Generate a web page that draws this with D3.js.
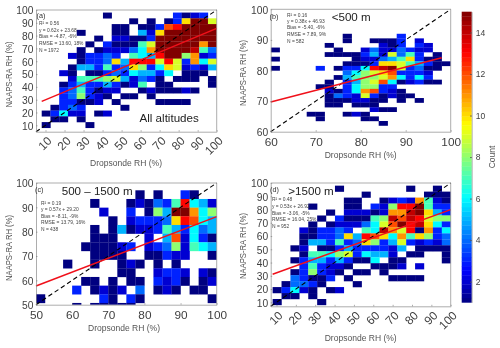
<!DOCTYPE html>
<html><head><meta charset="utf-8">
<script src="https://d3js.org/d3.v7.min.js"></script>
<style>html,body{margin:0;padding:0;background:#fff}svg{display:block;filter:blur(.3px)}text{font-family:"Liberation Sans",Arial,sans-serif}</style>
</head><body><svg id="c" width="500" height="348"></svg>
<script>
// Counts per histogram cell, top row first; 0 = empty
const gridA=[
[0,0,0,0,0,0,0,1,0,0,0,0,0,0,0,3,1,2,3,0],
[0,0,0,0,0,0,0,0,0,0,1,0,1,0,1,3,10,15,15,9],
[0,0,0,0,0,0,0,0,1,1,0,1,1,3,12,13,15,15,15,15],
[0,0,0,0,1,0,0,0,1,1,0,5,2,10,15,15,15,15,15,15],
[0,0,0,0,0,0,1,0,2,2,1,1,3,15,15,15,15,15,15,15],
[0,0,0,0,0,1,0,3,1,1,1,7,9,15,15,15,15,15,11,15],
[0,0,0,0,1,0,1,2,2,2,4,6,11,15,15,15,15,14,7,4],
[0,0,0,2,1,3,3,4,3,0,7,6,5,13,15,15,8,11,2,3],
[0,0,0,0,1,3,3,4,10,5,13,13,13,9,13,9,3,11,6,9],
[0,0,0,1,5,5,3,7,3,4,10,8,3,6,10,9,2,3,2,5],
[0,0,2,1,0,1,1,3,4,3,6,5,5,3,6,0,1,1,1,0],
[0,0,0,2,7,7,7,8,9,5,2,4,3,1,0,1,1,1,0,1],
[0,0,1,3,5,3,3,5,3,1,2,7,0,1,1,0,0,0,0,1],
[0,0,3,4,7,3,1,2,2,0,0,1,2,1,1,1,2,1,0,0],
[0,0,3,4,8,3,2,1,0,1,1,0,1,0,0,0,0,0,0,0],
[0,0,3,3,1,1,2,0,1,0,0,0,0,1,1,1,1,0,0,0],
[0,1,3,4,3,0,0,0,0,1,0,0,0,0,0,0,0,0,0,0],
[1,3,6,2,2,0,1,2,0,0,0,0,0,0,0,0,0,0,0,0],
[0,1,1,0,1,0,0,0,0,0,0,0,0,0,0,0,0,0,0,0],
[1,0,0,0,0,1,0,0,0,0,0,0,0,0,0,0,0,0,0,0]];
const gridB=[
[0,0,0,0,0,0,0,0,1,0,0,0,0,0,3,0,0,0,0,0],
[0,0,0,0,0,0,0,0,1,0,0,1,1,1,3,0,2,0,0,0],
[0,0,0,0,0,0,1,0,0,0,0,0,2,1,3,0,3,2,0,0],
[1,0,0,0,0,0,0,1,0,0,2,4,2,2,4,3,2,2,0,0],
[0,0,0,0,0,0,1,1,1,1,3,5,2,9,4,7,3,0,1,0],
[1,0,0,0,0,0,0,0,0,1,2,2,4,5,7,10,3,1,1,0],
[0,0,0,0,0,0,0,0,1,1,1,3,10,10,9,7,5,3,1,1],
[1,0,0,0,0,3,0,1,3,3,6,13,14,15,9,3,4,1,1,0],
[0,0,0,0,0,0,0,0,4,6,8,9,10,12,3,3,3,2,0,0],
[0,0,0,0,0,0,0,1,5,7,8,8,9,11,6,3,6,3,0,0],
[0,0,0,0,0,0,1,0,3,5,8,9,12,6,1,2,3,1,1,0],
[0,0,0,0,0,1,1,0,3,6,8,8,3,3,0,0,0,0,0,0],
[0,0,0,0,0,0,2,1,3,6,11,12,3,2,1,0,0,0,0,0],
[0,0,0,0,0,0,1,4,3,2,9,3,1,2,1,1,0,0,0,0],
[0,0,0,0,0,0,1,1,1,2,2,1,1,0,1,0,1,0,0,0],
[0,0,0,0,0,0,1,1,0,1,1,1,0,0,0,0,0,0,0,0],
[0,0,0,0,0,0,0,0,0,0,0,2,1,1,0,0,0,0,0,0],
[0,0,0,0,1,1,0,0,1,2,1,0,0,0,0,0,0,0,0,0],
[0,0,0,0,0,1,0,0,0,0,1,1,0,0,0,0,0,0,0,0],
[0,0,0,0,0,0,0,0,0,0,0,0,1,0,0,0,0,0,0,0]];
const gridC=[
[0,0,0,0,0,0,0,0,0,0,0,1,0,1,0,0,3,1,0,0],
[0,0,0,0,0,0,1,0,0,0,1,2,1,4,3,7,13,6,5,2],
[0,0,0,0,0,0,0,2,0,0,3,0,1,8,5,15,15,11,6,8],
[0,0,0,0,0,0,0,0,1,0,2,3,3,3,4,10,13,12,6,5],
[0,0,0,0,0,0,1,0,1,5,1,2,2,3,7,5,3,6,4,5],
[0,0,0,0,0,0,1,1,1,0,0,0,2,0,5,12,2,6,3,1],
[0,0,0,0,0,1,1,1,1,2,3,0,2,3,4,8,2,7,6,5],
[0,0,0,0,0,0,1,1,1,1,0,0,1,1,3,2,2,0,0,1],
[0,0,0,1,0,0,1,0,0,1,2,1,0,1,0,1,0,0,0,0],
[0,0,0,0,0,0,0,0,0,1,1,0,0,2,3,3,2,0,2,1],
[0,0,0,0,0,1,1,0,1,0,1,1,0,3,2,3,1,0,1,2],
[0,0,0,0,3,0,1,2,1,2,0,4,0,1,2,1,0,1,1,0],
[1,0,0,0,0,0,0,3,1,0,3,1,0,0,0,0,0,0,0,1],
[0,0,0,0,1,0,1,1,1,1,1,0,0,0,0,0,0,0,0,0]];
const gridD=[
[0,0,0,0,0,0,0,1,0,0,0,0,0,0,0,1,0,0,1,0],
[0,0,0,0,0,0,0,0,0,0,1,0,0,0,0,0,0,1,1,1],
[0,0,0,0,0,0,0,0,1,1,0,0,1,2,3,2,11,7,2,1],
[0,0,0,0,1,0,0,0,1,1,0,3,2,8,13,13,15,7,3,3],
[0,0,0,0,0,0,1,0,2,2,2,1,2,11,11,14,15,10,5,3],
[0,0,0,0,0,1,0,3,1,1,1,7,8,14,12,14,13,9,8,8],
[0,0,0,0,1,0,1,2,2,2,4,6,9,12,15,13,14,10,6,3],
[0,0,0,2,1,3,3,4,3,0,7,6,14,11,9,13,1,11,3,6],
[0,0,0,1,1,3,3,4,10,5,13,12,10,6,11,7,10,8,3,4],
[0,0,0,1,5,5,3,7,3,4,10,8,3,5,9,3,2,3,2,4],
[0,0,1,2,0,1,1,3,5,3,3,3,3,2,5,0,1,1,1,1],
[0,0,0,1,7,7,6,8,9,3,6,5,5,2,0,1,1,0,0,1],
[0,0,1,3,5,5,3,5,3,1,1,6,0,1,1,0,0,0,0,1],
[0,0,0,3,7,3,2,2,1,0,0,1,1,1,2,0,2,0,0,0],
[0,0,1,3,8,3,2,1,0,1,1,0,1,0,0,0,0,0,0,0],
[0,0,4,3,1,1,3,0,1,0,0,0,0,1,1,1,1,0,0,0],
[0,1,4,4,3,1,0,0,0,1,0,0,0,0,0,0,0,0,0,0],
[1,3,6,2,1,0,1,2,0,0,0,0,0,0,0,0,0,0,0,0],
[0,1,1,0,1,0,0,0,0,0,0,0,0,0,0,0,0,0,0,0],
[1,0,0,0,0,1,0,0,0,0,0,0,0,0,0,0,0,0,0,0]];
const ticksWide=[10,20,30,40,50,60,70,80,90,100];
const ticksB=[60,70,80,90,100];
const ticksC=[50,60,70,80,90,100];
const ticksBar=[2,4,6,8,10,12,14];
const statsA=["R² = 0.56","y = 0.62x + 23.68","Bias = -4.87, -6%","RMSE = 13.60, 18%","N = 1972"];
const statsB=["R² = 0.16","y = 0.38x + 46.93","Bias = -5.40, -6%","RMSE = 7.89, 9%","N = 582"];
const statsC=["R² = 0.19","y = 0.57x + 29.20","Bias = -8.11, -9%","RMSE = 13.79, 16%","N = 438"];
const statsD=["R² = 0.48","y = 0.53x + 26.92","Bias = -3.06, -5%","RMSE = 16.04, 25%","N = 952"];
const xLabel="Dropsonde RH (%)", yLabel="NAAPS-RA RH (%)", barLabel="Count";

const jetStops=[0,.11,.36,.61,.86,1], jetColors=["#000080","#0000ff","#00ffff","#ffff00","#ff0000","#800000"];
const color=d3.scaleLinear().domain(jetStops.map(t=>1+14*t)).range(jetColors).clamp(true);
const svg=d3.select("#c");
const panels=[
 {id:"a",grid:gridA,box:[36,216.7,10,131.7],dom:[5,100],ticks:ticksWide,rot:true,bin:[8,4.6,98,4.5],fit:[.62,23.68],fx:[8,100],stats:statsA,sx:39,sy:[25,32.4,38.4,45,51.7],tag:[36.5,18],
  title:"All altitudes",tx:139.5,ty:122,xl:[126,165.7],yl:[9,74.5]},
 {id:"b",grid:gridB,box:[270.7,450.7,9.3,131.7],dom:[60,100],ticks:ticksB,rot:false,bin:[60,2,92,1.5],fit:[.38,46.93],fx:[60,98],stats:statsB,sx:287,sy:[16.5,22.7,29,35.5,42.5],tag:[269.5,18.5],
  title:"<500 m",tx:331.7,ty:21,xl:[360.7,157.7],yl:[243,73]},
 {id:"c",grid:gridC,box:[36,216.7,183,304.7],dom:[50,100],ticks:ticksC,rot:false,bin:[50,2.5,97,3.56],fit:[.57,29.2],fx:[50,100],stats:statsC,sx:41,sy:[204.7,210.7,218,224,230.7],tag:[35,192],
  title:"500 – 1500 m",tx:61.7,ty:195,xl:[124,331.3],yl:[9,248]},
 {id:"d",grid:gridD,box:[270.7,450.7,183,306.3],dom:[7,100],ticks:ticksWide,rot:true,bin:[8,4.6,98,4.5],fit:[.53,26.92],fx:[8,100],stats:statsD,sx:272,sy:[201.4,208,214.7,221.4,228],tag:[270,192],
  title:">1500 m",tx:288.3,ty:195,xl:[360.7,341.3],yl:[243,246]}
];
panels.forEach(p=>{
 const [l,r,t,b]=p.box;
 const x=d3.scaleLinear().domain(p.dom).range([l,r]);
 const y=d3.scaleLinear().domain(p.dom).range([b,t]);
 const g=svg.append("g");
 g.append("clipPath").attr("id","clip"+p.id).append("rect").attr("x",l).attr("y",t).attr("width",r-l).attr("height",b-t);
 const [x0,xw,yt,yh]=p.bin;
 const cells=[];
 p.grid.forEach((row,ri)=>row.forEach((v,ci)=>{if(v>0)cells.push({ri,ci,v});}));
 g.append("g").attr("clip-path",`url(#clip${p.id})`).selectAll("rect").data(cells).join("rect")
  .attr("x",d=>x(x0+d.ci*xw)).attr("y",d=>y(yt-d.ri*yh))
  .attr("width",d=>x(x0+(d.ci+1)*xw)-x(x0+d.ci*xw)+.2)
  .attr("height",d=>y(yt-(d.ri+1)*yh)-y(yt-d.ri*yh)+.2)
  .attr("fill",d=>color(d.v));
 // 1:1 line and fit
 g.append("line").attr("x1",x(p.dom[0])).attr("y1",y(p.dom[0])).attr("x2",x(p.dom[1])).attr("y2",y(p.dom[1]))
  .attr("stroke","#000").attr("stroke-width",1.1).attr("stroke-dasharray","4.5,3");
 g.append("line").attr("x1",x(p.fx[0])).attr("y1",y(p.fit[0]*p.fx[0]+p.fit[1])).attr("x2",x(p.fx[1])).attr("y2",y(p.fit[0]*p.fx[1]+p.fit[1]))
  .attr("stroke","#f0101a").attr("stroke-width",1.5);
 // axes
 const ax=g.append("g").attr("transform",`translate(0,${b})`).call(d3.axisBottom(x).tickValues(p.ticks).tickSizeInner(-1.5).tickSizeOuter(0));
 const ay=g.append("g").attr("transform",`translate(${l},0)`).call(d3.axisLeft(y).tickValues(p.ticks).tickSizeInner(-1.5).tickSizeOuter(0).tickPadding(3));
 [ax,ay].forEach(a=>{a.select(".domain").attr("stroke","#8a8a8a").attr("stroke-width",.7);
  a.selectAll(".tick line").attr("stroke","#777").attr("stroke-width",.6);
  a.selectAll("text").attr("fill","#404040").style("font-size","11.8px").style("font-family",'"Liberation Sans",Arial,sans-serif');});
 ay.selectAll("text").attr("transform","scale(.87,1)");
 if(p.rot){ax.selectAll("text").attr("y",0).attr("dy",0).attr("text-anchor","end").attr("transform","translate(6.5,10) rotate(-45)");}
 else{ax.selectAll("text").attr("y",6).attr("dy","0.71em");}
 g.append("path").attr("d",`M${l},${t}H${r}V${b}`).attr("fill","none").attr("stroke","#8a8a8a").attr("stroke-width",.7);
 // texts
 g.append("text").attr("x",p.xl[0]).attr("y",p.xl[1]).attr("text-anchor","middle").attr("fill","#555").style("font-size","9px").attr("textLength",72).attr("lengthAdjust","spacingAndGlyphs").text(xLabel);
 g.append("text").attr("transform",`translate(${p.yl[0]},${p.yl[1]}) rotate(-90)`).attr("text-anchor","middle").attr("dy",".35em").attr("fill","#555").style("font-size","9px").attr("textLength",66).attr("lengthAdjust","spacingAndGlyphs").text(yLabel);
 g.append("text").attr("x",p.tag[0]).attr("y",p.tag[1]).attr("fill","#333").style("font-size","7.2px").text(`(${p.id})`);
 g.append("text").attr("x",p.tx).attr("y",p.ty).attr("fill","#222").style("font-size","11.6px").text(p.title);
 p.stats.forEach((s,i)=>g.append("text").attr("x",p.sx).attr("y",p.sy[i]).attr("fill","#444").style("font-size","4.9px").text(s));
});
// colorbar
const barY=d3.scaleLinear().domain([1,15]).range([302.4,11.7]);
const bar=svg.append("g");
const nSteps=d3.range(64);
bar.selectAll("rect").data(nSteps).join("rect")
 .attr("x",461.7).attr("width",10)
 .attr("y",i=>barY(1+14*(i+1)/64)).attr("height",i=>barY(1+14*i/64)-barY(1+14*(i+1)/64)+.3)
 .attr("fill",i=>color(1+14*(i+.5)/64));
const bax=bar.append("g").attr("transform","translate(471.7,0)").call(d3.axisRight(barY).tickValues(ticksBar).tickSizeInner(-1.5).tickSizeOuter(0).tickPadding(4));
bax.select(".domain").attr("stroke","#666").attr("stroke-width",.5);
bax.selectAll(".tick line").attr("stroke","#555");
bax.selectAll("text").attr("fill","#404040").style("font-size","8.5px").style("font-family",'"Liberation Sans",Arial,sans-serif');
bar.append("text").attr("transform","translate(491.7,157) rotate(-90)").attr("text-anchor","middle").attr("dy",".35em").attr("fill","#555").style("font-size","8.5px").text(barLabel);
</script></body></html>
